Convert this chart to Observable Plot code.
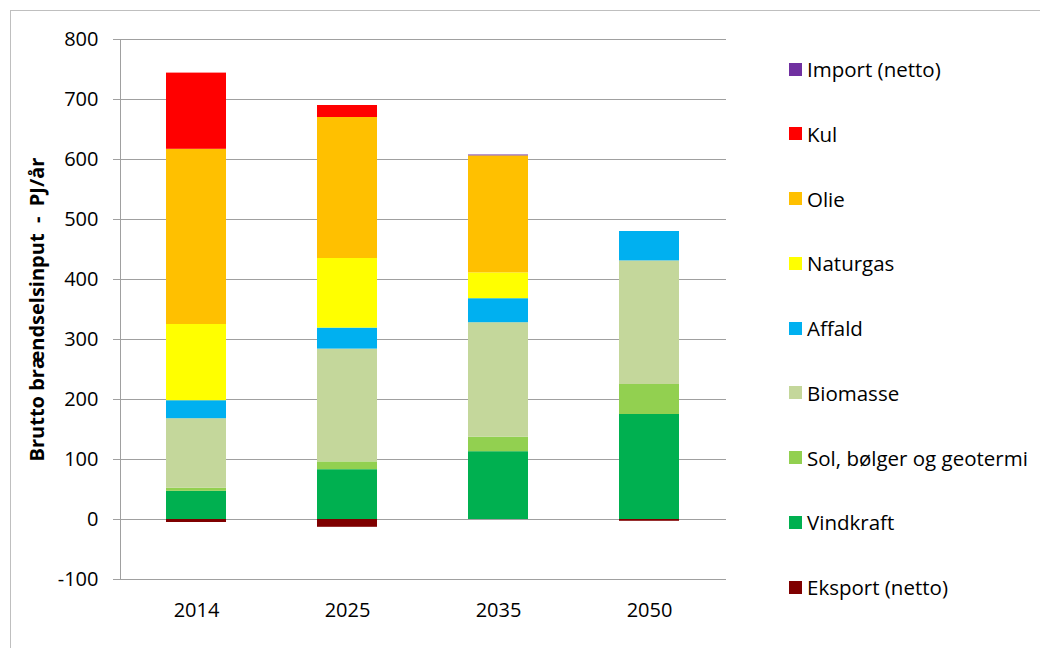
<!DOCTYPE html>
<html>
<head>
<meta charset="utf-8">
<script src="https://cdn.jsdelivr.net/npm/d3@7"></script>
<script src="https://cdn.jsdelivr.net/npm/@observablehq/plot@0.6"></script>
<style>
  html, body { margin: 0; padding: 0; background: #fff; overflow: hidden; }
  body { width: 1040px; height: 648px; position: relative; font-family: "Open Sans", sans-serif; }
  #frame { position: absolute; left: 10px; top: 10px; width: 1100px; height: 700px; border: 1px solid #bfbfbf; box-sizing: border-box; pointer-events: none; }
  #chart { position: absolute; left: 0; top: 0; }
  #legend { position: absolute; left: 0; top: 0; }
  .li { position: absolute; left: 789px; height: 20px; display: flex; align-items: center; font-size: 20.5px; color: #000; white-space: nowrap; }
  .sw { width: 13px; height: 13px; margin-right: 5px; flex: none; }
</style>
</head>
<body>
<div id="frame"></div>
<div id="chart"></div>
<div id="legend"></div>
<script>
// Categories
const years = ["2014", "2025", "2035", "2050"];
// Series in stacking order (bottom to top); export is negative
const series = ["Vindkraft", "Sol, bølger og geotermi", "Biomasse", "Affald", "Naturgas", "Olie", "Kul", "Import (netto)", "Eksport (netto)"];
const seriesColors = ["#00B050", "#92D050", "#C4D79B", "#00B0F0", "#FFFF00", "#FFC000", "#FF0000", "#7030A0", "#7F0000"];
// Values, PJ/år
const vindkraft    = [47, 83, 113, 175];
const sol          = [5, 13, 24, 50];
const biomasse     = [116, 188, 191, 206];
const affald       = [30, 35, 40, 49];
const naturgas     = [127, 116, 43, 0];
const olie         = [292, 235, 195, 0];
const kul          = [127, 20, 0, 0];
const importNetto  = [0, 0, 1.5, 0];
const eksportNetto = [-5, -13, 0, -3];
// Legend order (top to bottom)
const legendOrder = ["Import (netto)", "Kul", "Olie", "Naturgas", "Affald", "Biomasse", "Sol, bølger og geotermi", "Vindkraft", "Eksport (netto)"];
// Axis ticks
const yTicks = [-100, 0, 100, 200, 300, 400, 500, 600, 700, 800];
const yTitle = "Brutto brændselsinput  -  PJ/år";

const valueArrays = [vindkraft, sol, biomasse, affald, naturgas, olie, kul, importNetto, eksportNetto];
const rows = [];
series.forEach((s, i) => years.forEach((yr, j) => rows.push({year: yr, series: s, value: valueArrays[i][j]})));

const plot = Plot.plot({
  width: 1040,
  height: 648,
  marginLeft: 120,
  marginRight: 314,
  marginTop: 39,
  marginBottom: 69,
  style: {fontFamily: "Open Sans, sans-serif", fontSize: "20px", color: "#000", background: "transparent"},
  x: {domain: years, paddingInner: 0.6, paddingOuter: 0.3, label: null},
  y: {domain: [-100, 800], label: null},
  color: {domain: series, range: seriesColors},
  marks: [
    Plot.gridY(yTicks, {stroke: "#a0a0a0", strokeOpacity: 1, strokeWidth: 1}),
    Plot.barY(rows, {x: "year", y: "value", fill: "series", order: series, inset: 0}),
    Plot.frame({anchor: "left", stroke: "#a0a0a0", strokeOpacity: 1}),
    Plot.axisY({ticks: yTicks, tickSize: 7, tickPadding: 15, stroke: "#a0a0a0", strokeOpacity: 1, label: null, fontSize: 20, tickFormat: d => d < 0 ? "-" + Math.abs(d) : String(d)}),
    Plot.axisX({tickSize: 0, tickPadding: 23, label: null, fontSize: 20}),
    Plot.text([yTitle], {frameAnchor: "left", dx: -83, rotate: -90, textAnchor: "middle", fontWeight: "bold", fontSize: 20, fill: "#000"})
  ]
});
document.getElementById("chart").appendChild(plot);

const legend = document.getElementById("legend");
legendOrder.forEach((name, i) => {
  const item = document.createElement("div");
  item.className = "li";
  item.style.top = (69 + i * 64.75 - 10) + "px";
  const sw = document.createElement("span");
  sw.className = "sw";
  sw.style.background = seriesColors[series.indexOf(name)];
  const tx = document.createElement("span");
  tx.textContent = name;
  item.appendChild(sw);
  item.appendChild(tx);
  legend.appendChild(item);
});
</script>
</body>
</html>
